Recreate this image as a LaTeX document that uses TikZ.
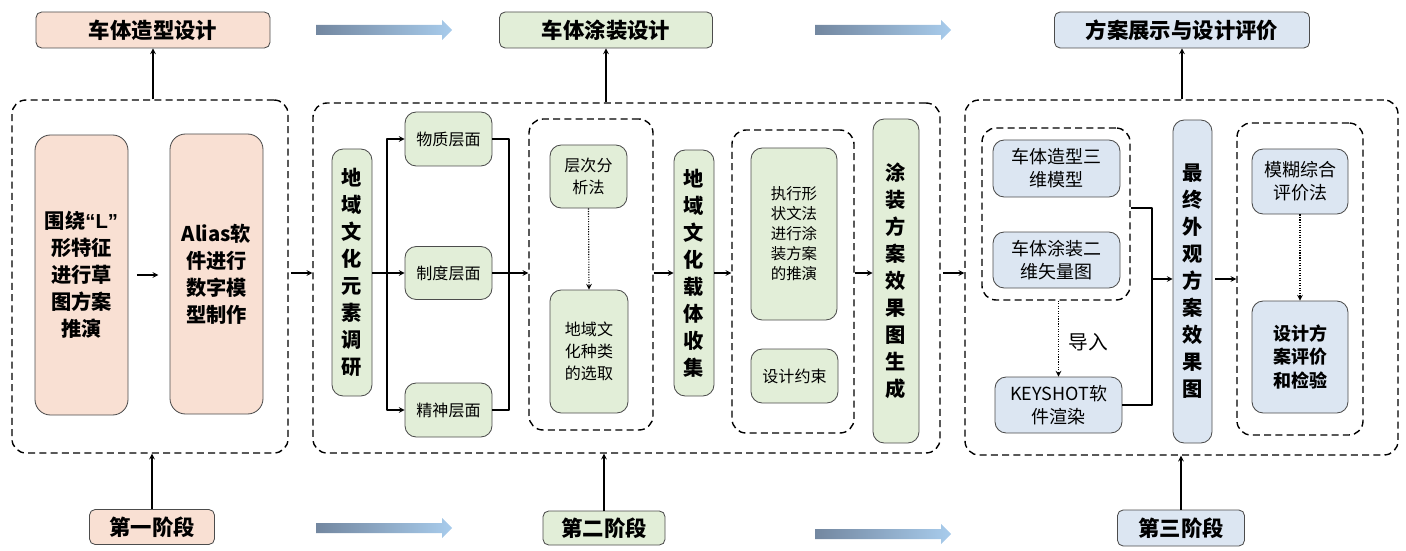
\documentclass[tikz,border=0pt]{standalone}
\usepackage{fontspec}
\setmainfont{Noto Sans CJK SC}
\newfontfamily\latinsans{Liberation Sans}
\definecolor{peach}{HTML}{F9E0D3}
\definecolor{leaf}{HTML}{E2EED8}
\definecolor{sky}{HTML}{DCE6F2}
\definecolor{gdark}{HTML}{7387A0}
\definecolor{glight}{HTML}{A8CCEC}
\begin{document}
\begin{tikzpicture}[>=stealth,line join=round,x=0.025cm,y=-0.025cm,
	wh/.style 2 args={minimum width=#1*0.025cm,minimum height=#2*0.025cm},
	base/.style={draw=black!70,line width=0.6pt,align=center,inner sep=0pt},
	peachbox/.style={base,fill=peach,rounded corners=11pt},
	leafbox/.style={base,fill=leaf,rounded corners=8pt},
	skybox/.style={base,fill=sky,rounded corners=8pt},
	title/.style={base,rounded corners=4pt,font=\bfseries\fontsize{15.2}{18}\selectfont},
	zone/.style={draw,line width=1pt,dash pattern=on 5pt off 3pt,rounded corners=10pt,inner sep=0pt},
	big/.style={font=\bfseries\fontsize{14.4}{19.2}\selectfont},
	small/.style={font=\fontsize{11.4}{15.6}\selectfont},
	mid/.style={font=\fontsize{12.8}{16.4}\selectfont},
	link/.style={->,line width=0.8pt}]
	\useasboundingbox (0,0) rectangle (1406,551);
	\foreach \gx/\gy in {316/30,815/30,316/528,815/534}
	\shade[left color=gdark,right color=glight] (\gx,\gy-5)--(\gx+126,\gy-5)--(\gx+126,\gy-10)--(\gx+136,\gy)--(\gx+126,\gy+10)--(\gx+126,\gy+5)--(\gx,\gy+5)--cycle;
	
	\node[title,fill=peach,wh={234}{36}] (t1) at (153,30) {车体造型设计};
	\node[title,fill=leaf,wh={213}{36}] (t2) at (606,30) {车体涂装设计};
	\node[title,fill=sky,wh={255}{36}] (t3) at (1182,30) {方案展示与设计评价};
	\node[title,fill=peach,wh={125}{35}] (s1) at (152,527) {第一阶段};
	\node[title,fill=leaf,wh={122}{34}] (s2) at (604,528) {第二阶段};
	\node[title,fill=sky,wh={127}{36}] (s3) at (1181,528) {第三阶段};
	
	\node[zone,wh={276}{353}] (z1) at (150,276.5) {};
	\node[zone,wh={627}{350}] (z2) at (626.5,278) {};
	\node[zone,wh={433}{355}] (z3) at (1181.5,277.5) {};
	
	\node[peachbox,big,wh={93}{280}] (a1) at (81.5,275) {围绕{\latinsans“L”}\\形特征\\进行草\\图方案\\推演};
	\node[peachbox,big,wh={93}{280}] (a2) at (216.5,274) {Alias软\\件进行\\数字模\\型制作};
	
	\node[leafbox,big,wh={40}{247}] (b0) at (352,272.5) {地\\域\\文\\化\\元\\素\\调\\研};
	\node[leafbox,small,wh={87}{54}] (b1) at (448.5,139) {物质层面};
	\node[leafbox,small,wh={87}{53}] (b2) at (448.5,273) {制度层面};
	\node[leafbox,small,wh={87}{54}] (b3) at (448.5,410) {精神层面};
	\node[zone,wh={124}{311}] (za) at (591,274.5) {};
	\node[leafbox,small,wh={77}{63}] (b4) at (588.5,176.5) {层次分\\析法};
	\node[leafbox,small,wh={78}{123}] (b5) at (589,351.5) {地域文\\化种类\\的选取};
	\node[leafbox,big,wh={40}{246}] (b6) at (694,273) {地\\域\\文\\化\\载\\体\\收\\集};
	\node[zone,wh={122}{303}] (zb) at (793,281.5) {};
	\node[leafbox,font=\fontsize{11}{14.2}\selectfont,wh={86}{172}] (b7) at (794,234) {执行形\\状文法\\进行涂\\装方案\\的推演};
	\node[leafbox,small,wh={87}{54}] (b8) at (794.5,376) {设计约束};
	\node[leafbox,big,wh={46}{324}] (b9) at (896,281) {涂\\装\\方\\案\\效\\果\\图\\生\\成};
	
	\node[zone,wh={148}{172}] (zc) at (1056,214) {};
	\node[skybox,mid,wh={127}{57}] (c1) at (1056.5,168.5) {车体造型三\\维模型};
	\node[skybox,mid,wh={127}{56}] (c2) at (1056.5,260) {车体涂装二\\维矢量图};
	\node[skybox,mid,wh={127}{56}] (c3) at (1058.5,405) {KEYSHOT软\\件渲染};
	\node[font=\fontsize{14}{17}\selectfont] (im) at (1088,342) {导入};
	\node[skybox,big,wh={39}{323}] (c4) at (1192.5,281.5) {最\\终\\外\\观\\方\\案\\效\\果\\图};
	\node[zone,wh={126}{312}] (zd) at (1300,279) {};
	\node[skybox,mid,wh={96}{65}] (c5) at (1300,181.5) {模糊综合\\评价法};
	\node[skybox,font=\bfseries\fontsize{12.8}{17}\selectfont,wh={96}{112}] (c6) at (1300,357) {设计方\\案评价\\和检验};
	
	\draw[link] (z1.north-|t1) -- (t1.south);
	\draw[link] (z2.north-|t2) -- (t2.south);
	\draw[link] (z3.north-|t3) -- (t3.south);
	\draw[link] (s1.north) -- (s1.north|-z1.south);
	\draw[link] (s2.north) -- (s2.north|-z2.south);
	\draw[link] (s3.north) -- (s3.north|-z3.south);
	
	\draw[link,shorten <=6pt,shorten >=8pt] (a1.east) -- (a1.east-|a2.west);
	\draw[link,shorten <=1.5pt] (z1.east|-b2) -- (z2.west|-b2);
	\coordinate (br) at (387,273);
	\coordinate (mg) at (509,273);
	\draw[link] (b0.east|-br) -- (b2.west);
	\draw[link] (br) |- (b1.west);
	\draw[link] (br) |- (b3.west);
	\draw[line width=0.8pt] (b1.east) -| (mg) |- (b3.east);
	\draw[link] (b2.east) -- (za.west|-b2);
	\draw[->,densely dotted,line width=0.8pt] (b4.south) -- (b5.north);
	\draw[link] (za.east|-b6) -- (b6.west);
	\draw[link] (b6.east) -- (b6.east-|zb.west);
	\draw[link] (zb.east|-b6) -- (b9.west|-b6);
	\draw[link,shorten <=1.5pt] (z2.east|-b6) -- (z3.west|-b6);
	
	\coordinate (mh) at (1152,279);
	\draw[line width=0.8pt] (zc.east|-0,208) -| (mh) |- (c3.east);
	\draw[link] (mh) -- (mh-|c4.west);
	\draw[link,shorten <=2pt] (c4.east|-mh) -- (zd.west|-mh);
	\draw[->,densely dotted,line width=0.8pt] (zc.south-|c3) -- (c3.north);
	\draw[->,densely dotted,line width=0.8pt] (c5.south) -- (c6.north);
\end{tikzpicture}
\end{document}
